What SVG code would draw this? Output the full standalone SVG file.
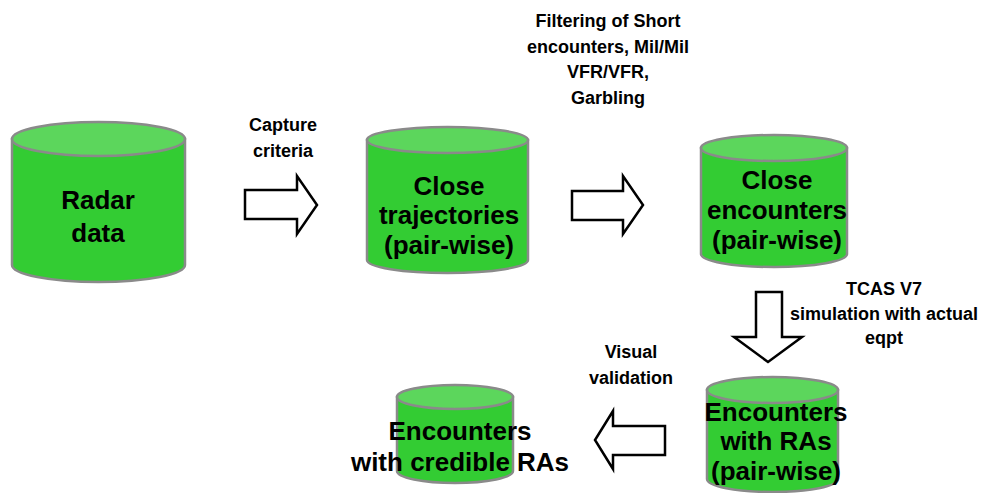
<svg xmlns="http://www.w3.org/2000/svg" width="985" height="493" viewBox="0 0 985 493">
<style>
.body{fill:#33cc33;stroke:#8a8a8a;stroke-width:2.5}
.top{fill:#5cd65c;stroke:#8a8a8a;stroke-width:2.5}
.big{font-family:"Liberation Sans",Arial,sans-serif;font-weight:bold;font-size:26px;fill:#000;text-anchor:middle}
.lbl{font-family:"Liberation Sans",Arial,sans-serif;font-weight:bold;font-size:18px;fill:#000;text-anchor:middle}
.arr{fill:#fff;stroke:#000;stroke-width:2.5;stroke-linejoin:miter}
</style>
<rect width="985" height="493" fill="#fff"/>
<g id="connectors">
<polygon class="arr" points="245,190 297,190 297,176 317,205 297,234 297,219 245,219"/>
<polygon class="arr" points="572,191 623,191 623,176 643,205 623,234 623,220 572,220"/>
<polygon class="arr" points="756,292 782,292 782,337 802,337 768,362 734,337 756,337"/>
<polygon class="arr" points="665,426 613,426 613,411 595,440 613,469 613,455 665,455"/>
<g id="label-capture"><text class="lbl" x="283" y="131">Capture</text><text class="lbl" x="283" y="157">criteria</text></g>
<g id="label-filter"><text class="lbl" x="608" y="27">Filtering of Short</text><text class="lbl" x="608" y="53">encounters, Mil/Mil</text><text class="lbl" x="608" y="78">VFR/VFR,</text><text class="lbl" x="608" y="104">Garbling</text></g>
<g id="label-tcas"><text class="lbl" x="884" y="295">TCAS V7</text><text class="lbl" x="884" y="320">simulation with actual</text><text class="lbl" x="884" y="344">eqpt</text></g>
<g id="label-visual"><text class="lbl" x="631" y="358">Visual</text><text class="lbl" x="631" y="384">validation</text></g>
</g>
<g id="radar">
<path class="body" d="M12,139 L12,265 A86.5,17 0 0 0 185,265 L185,139 Z"/>
<ellipse class="top" cx="98.5" cy="139" rx="86.5" ry="17"/>
<text class="big" x="98" y="209">Radar</text><text class="big" x="98" y="242">data</text>
</g>
<g id="close-trajectories">
<path class="body" d="M367,140 L367,260 A80.5,13 0 0 0 528,260 L528,140 Z"/>
<ellipse class="top" cx="447.5" cy="140" rx="80.5" ry="13"/>
<text class="big" x="449" y="195">Close</text><text class="big" x="449" y="224">trajectories</text><text class="big" x="449" y="254">(pair-wise)</text>
</g>
<g id="close-encounters">
<path class="body" d="M701,148 L701,254 A73,13 0 0 0 847,254 L847,148 Z"/>
<ellipse class="top" cx="774" cy="148" rx="73" ry="13"/>
<text class="big" x="777" y="189">Close</text><text class="big" x="777" y="219">encounters</text><text class="big" x="777" y="249">(pair-wise)</text>
</g>
<g id="encounters-ras">
<path class="body" d="M707,390 L707,479 A65.5,13 0 0 0 838,479 L838,390 Z"/>
<ellipse class="top" cx="772.5" cy="390" rx="65.5" ry="13"/>
<text class="big" x="776" y="421">Encounters</text><text class="big" x="776" y="450">with RAs</text><text class="big" x="776" y="480">(pair-wise)</text>
</g>
<g id="credible-ras">
<path class="body" d="M397,397 L397,471 A58,12 0 0 0 513,471 L513,397 Z"/>
<ellipse class="top" cx="455" cy="397" rx="58" ry="12"/>
<text class="big" x="460" y="440">Encounters</text><text class="big" x="460" y="471">with credible RAs</text>
</g>
</svg>
